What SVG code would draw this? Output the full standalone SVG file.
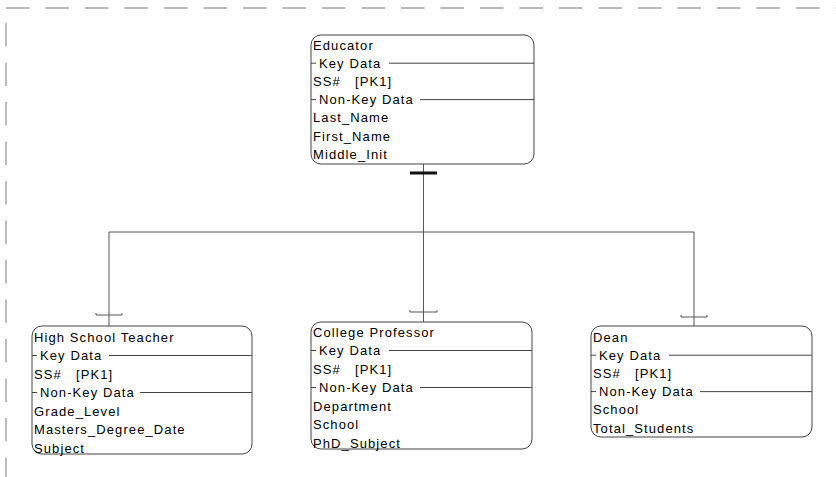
<svg xmlns="http://www.w3.org/2000/svg" width="836" height="477" viewBox="0 0 836 477">
<style>
text{font-family:"Liberation Sans",Arial,sans-serif;font-size:13px;letter-spacing:1.1px;fill:#000}
.box{fill:#fff;stroke:#444;stroke-width:1}
.sep{stroke:#444;stroke-width:1;fill:none}
.con{stroke:#555;stroke-width:1;fill:none}
.frame{stroke:#777;stroke-width:1;stroke-dasharray:23.5 16;fill:none}
</style>
<g id="frame">
<line class="frame" x1="6" y1="8" x2="836" y2="8"/>
<line class="frame" x1="6" y1="23" x2="6" y2="477"/>
</g>
<g id="connectors">
<line class="con" x1="423.5" y1="164" x2="423.5" y2="322"/>
<rect x="410" y="171.5" width="27" height="3" fill="#111"/>
<line class="con" x1="109" y1="232" x2="694" y2="232"/>
<line class="con" x1="109" y1="232" x2="109" y2="326"/>
<line class="con" x1="694" y1="232" x2="694" y2="326"/>
<path class="con" d="M96 313 L96 315 L122 315 L122 313"/>
<path class="con" d="M410 310 L410 312 L437 312 L437 310"/>
<path class="con" d="M681 315 L681 317 L707 317 L707 315"/>
</g>
<g id="educator">
<rect class="box" x="311" y="35" width="223" height="129" rx="10"/>
<text x="313" y="49.5">Educator</text>
<line class="sep" x1="311" y1="63.2" x2="316" y2="63.2"/>
<text x="319" y="67.7">Key Data</text>
<line class="sep" x1="389" y1="63.2" x2="534" y2="63.2"/>
<text x="313" y="85.9">SS#&#160;&#160; [PK1]</text>
<line class="sep" x1="311" y1="99.6" x2="316" y2="99.6"/>
<text x="319" y="104.1">Non-Key Data</text>
<line class="sep" x1="420" y1="99.6" x2="534" y2="99.6"/>
<text x="313" y="122.3">Last_Name</text>
<text x="313" y="140.5">First_Name</text>
<text x="313" y="158.7">Middle_Init</text>
</g>
<g id="high-school-teacher">
<rect class="box" x="32" y="326" width="220" height="128" rx="10"/>
<text x="34" y="341.5">High School Teacher</text>
<line class="sep" x1="32" y1="355.5" x2="37" y2="355.5"/>
<text x="40" y="360">Key Data</text>
<line class="sep" x1="109" y1="355.5" x2="252" y2="355.5"/>
<text x="34" y="378.5">SS#&#160;&#160; [PK1]</text>
<line class="sep" x1="32" y1="392.5" x2="37" y2="392.5"/>
<text x="40" y="397">Non-Key Data</text>
<line class="sep" x1="140" y1="392.5" x2="252" y2="392.5"/>
<text x="34" y="415.5">Grade_Level</text>
<text x="34" y="434">Masters_Degree_Date</text>
<text x="34" y="452.5">Subject</text>
</g>
<g id="college-professor">
<rect class="box" x="311" y="322" width="221" height="127" rx="10"/>
<text x="313" y="336.5">College Professor</text>
<line class="sep" x1="311" y1="350.5" x2="316" y2="350.5"/>
<text x="319" y="355">Key Data</text>
<line class="sep" x1="389" y1="350.5" x2="532" y2="350.5"/>
<text x="313" y="373.5">SS#&#160;&#160; [PK1]</text>
<line class="sep" x1="311" y1="387.5" x2="316" y2="387.5"/>
<text x="319" y="392">Non-Key Data</text>
<line class="sep" x1="420" y1="387.5" x2="532" y2="387.5"/>
<text x="313" y="410.5">Department</text>
<text x="313" y="429">School</text>
<text x="313" y="447.5">PhD_Subject</text>
</g>
<g id="dean">
<rect class="box" x="591" y="326" width="221" height="111" rx="10"/>
<text x="593" y="341.5">Dean</text>
<line class="sep" x1="591" y1="355.2" x2="596" y2="355.2"/>
<text x="599" y="359.7">Key Data</text>
<line class="sep" x1="669" y1="355.2" x2="812" y2="355.2"/>
<text x="593" y="377.9">SS#&#160;&#160; [PK1]</text>
<line class="sep" x1="591" y1="391.6" x2="596" y2="391.6"/>
<text x="599" y="396.1">Non-Key Data</text>
<line class="sep" x1="700" y1="391.6" x2="812" y2="391.6"/>
<text x="593" y="414.3">School</text>
<text x="593" y="432.5">Total_Students</text>
</g>
</svg>
